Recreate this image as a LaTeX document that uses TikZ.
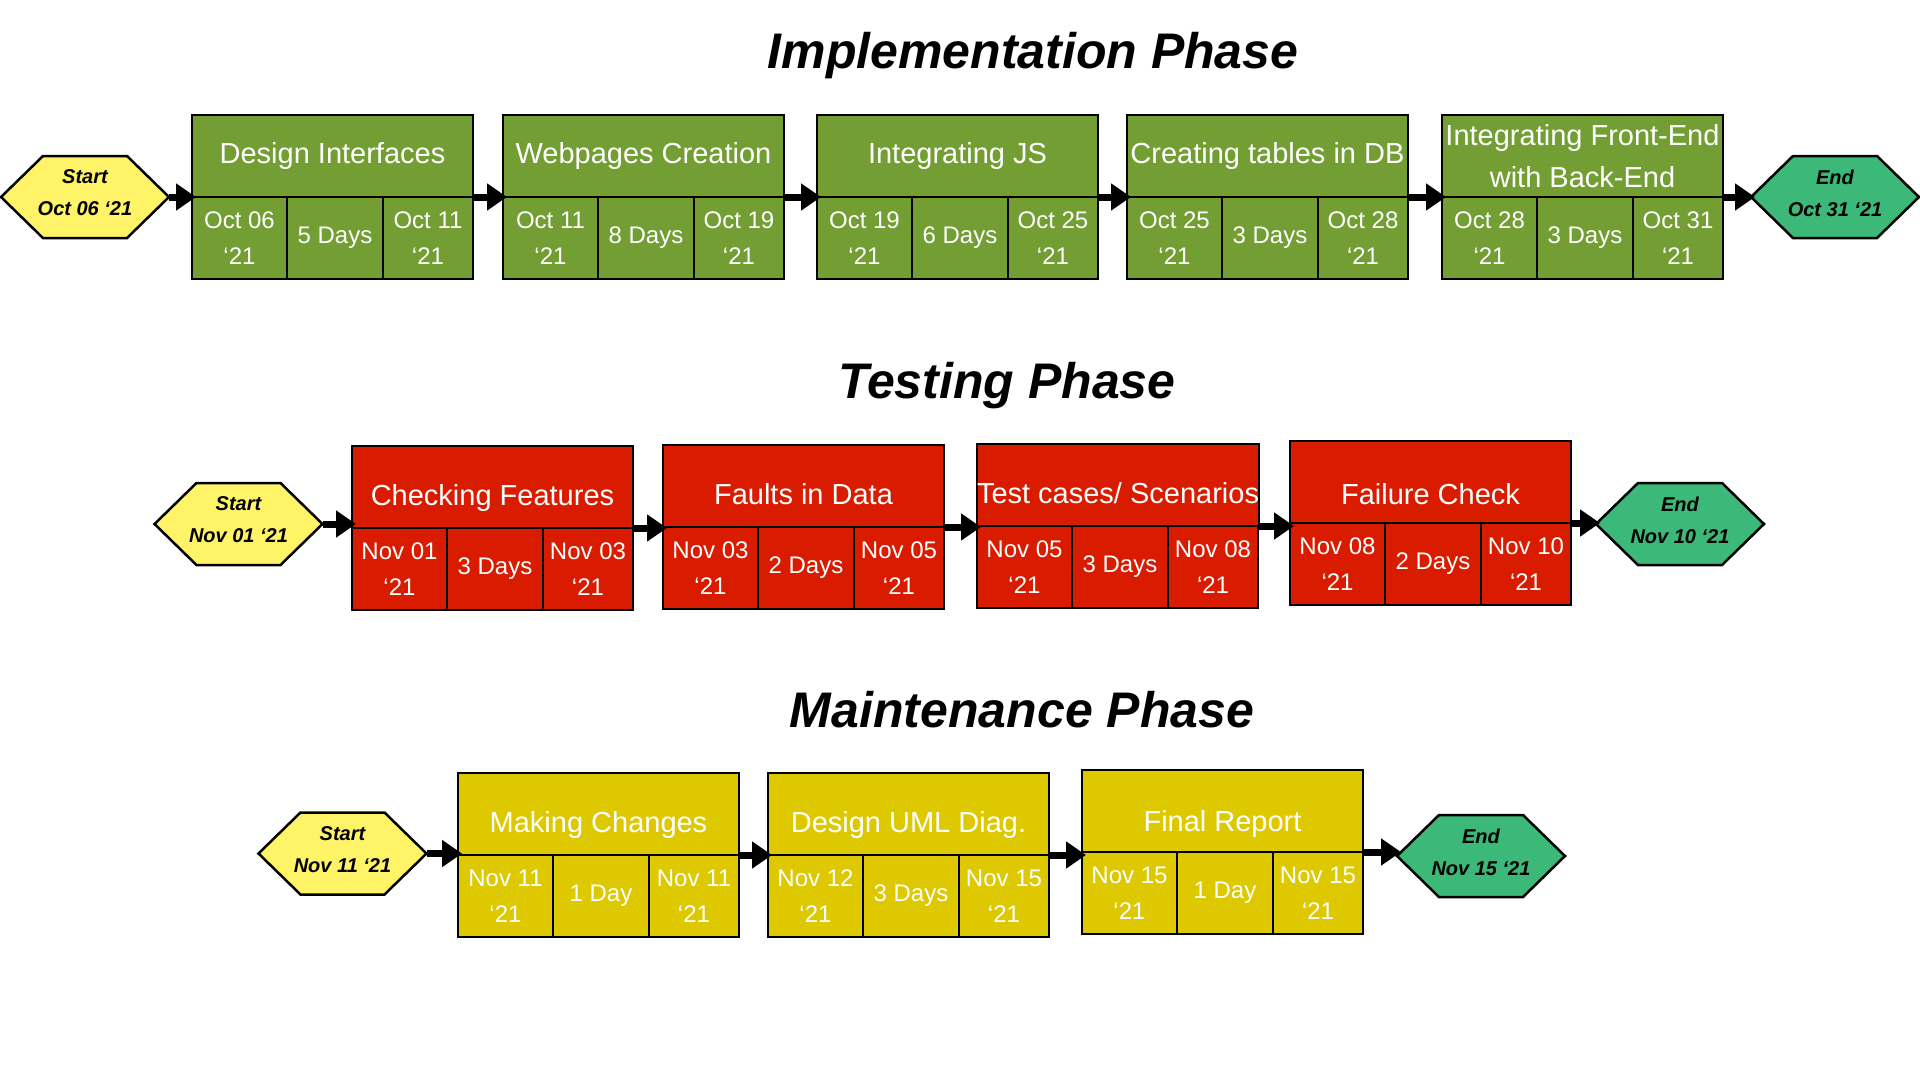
\documentclass[tikz,border=0pt]{standalone}
\usepackage{fontspec}
\setmainfont{Liberation Sans}
\usetikzlibrary{arrows.meta}
\definecolor{grn}{RGB}{115,158,52}
\definecolor{red1}{RGB}{217,27,0}
\definecolor{yel}{RGB}{222,200,0}
\definecolor{hexy}{RGB}{255,244,104}
\definecolor{hexg}{RGB}{60,184,120}
\tikzset{
 phase/.style={font=\fontsize{50}{60}\selectfont\bfseries\itshape, anchor=base, inner sep=0},
 taskbox/.style={draw, line width=2pt, outer sep=0, minimum width=281, minimum height=164, inner sep=0},
 topcell/.style={draw, line width=2pt, outer sep=0, minimum width=281, minimum height=82, inner sep=0, text=white, font=\fontsize{29}{42}\selectfont, align=center, anchor=south west},
 subcell/.style={draw, line width=2pt, outer sep=0, minimum height=82, inner sep=0, text=white, font=\fontsize{24}{36}\selectfont, align=center, anchor=north west},
 hexbox/.style={minimum width=168, minimum height=82, inner sep=0, outer sep=0},
 hexline/.style={draw, line width=2.5pt, line join=miter},
 hextxt/.style={inner sep=0, font=\fontsize{20}{32}\selectfont\bfseries\itshape, align=center},
 arr/.style={line width=7pt, -{Triangle[length=20pt,width=26pt]}, shorten >=-4pt},
 hiA/.style={text height=21pt, text depth=6pt},
 hiB/.style={text height=38pt, text depth=2pt},
 hiC/.style={text height=46pt, text depth=2pt},
 hiD/.style={text height=43pt, text depth=2pt},
}
\newcommand{\mytask}[9]{%
 \node[taskbox, fill=#4] (#1) at (#2,#3) {};
 \node[topcell, fill=#4, #9] (#1-t) at (#1.west) {#5};
 \node[subcell, fill=#4, minimum width=95] (#1-a) at (#1.west) {#6};
 \node[subcell, fill=#4, minimum width=96] (#1-b) at (#1-a.north east) {#7};
 \node[subcell, fill=#4, minimum width=90] (#1-c) at (#1-b.north east) {#8};
}
\newcommand{\myhex}[5]{%
 \node[hexbox] (#1) at (#2,#3) {};
 \filldraw[hexline, fill=#4] (#1.west) -- ([xshift=42pt]#1.north west) -- ([xshift=-42pt]#1.north east) -- (#1.east) -- ([xshift=-42pt]#1.south east) -- ([xshift=42pt]#1.south west) -- cycle;
 \node[hextxt] (#1-txt) at ([yshift=4pt]#1.center) {#5};
}
\begin{document}
\begin{tikzpicture}[x=1pt,y=-1pt]
\useasboundingbox (0,0) rectangle (1920,1080);
\fill[white] (0,0) rectangle (1920,1080);

% Titles
\node[phase] (p1) at (1033,68) {Implementation Phase};
\node[phase] (p2) at (1007,398) {Testing Phase};
\node[phase] (p3) at (1022,727) {Maintenance Phase};

% Row 1
\myhex{s1}{85}{197}{hexy}{Start\\Oct 06 ‘21}
\mytask{a1}{332.5}{197}{grn}{Design Interfaces}{Oct 06\\‘21}{5 Days}{Oct 11\\‘21}{hiA}
\mytask{a2}{643.5}{197}{grn}{Webpages Creation}{Oct 11\\‘21}{8 Days}{Oct 19\\‘21}{hiA}
\mytask{a3}{957.5}{197}{grn}{Integrating JS}{Oct 19\\‘21}{6 Days}{Oct 25\\‘21}{hiA}
\mytask{a4}{1267.5}{197}{grn}{Creating tables in DB}{Oct 25\\‘21}{3 Days}{Oct 28\\‘21}{hiA}
\mytask{a5}{1582.5}{197}{grn}{Integrating Front-End\\with Back-End}{Oct 28\\‘21}{3 Days}{Oct 31\\‘21}{}
\myhex{e1}{1835}{197}{hexg}{End\\Oct 31 ‘21}

% Row 2
\myhex{s2}{238.5}{524}{hexy}{Start\\Nov 01 ‘21}
\mytask{b1}{492.5}{528}{red1}{Checking Features}{Nov 01\\‘21}{3 Days}{Nov 03\\‘21}{hiB}
\mytask{b2}{803.5}{527}{red1}{Faults in Data}{Nov 03\\‘21}{2 Days}{Nov 05\\‘21}{hiB}
\mytask{b3}{1117.5}{526}{red1}{Test cases/ Scenarios}{Nov 05\\‘21}{3 Days}{Nov 08\\‘21}{hiB}
\mytask{b4}{1430.5}{523}{red1}{Failure Check}{Nov 08\\‘21}{2 Days}{Nov 10\\‘21}{hiC}
\myhex{e2}{1680}{524}{hexg}{End\\Nov 10 ‘21}

% Row 3
\myhex{s3}{342.5}{853.5}{hexy}{Start\\Nov 11 ‘21}
\mytask{c1}{598.5}{855}{yel}{Making Changes}{Nov 11\\‘21}{1 Day}{Nov 11\\‘21}{hiB}
\mytask{c2}{908.5}{855}{yel}{Design UML Diag.}{Nov 12\\‘21}{3 Days}{Nov 15\\‘21}{hiB}
\mytask{c3}{1222.5}{852}{yel}{Final Report}{Nov 15\\‘21}{1 Day}{Nov 15\\‘21}{hiD}
\myhex{e3}{1481}{856}{hexg}{End\\Nov 15 ‘21}

% Connectors
\draw[arr] (s1.east) -- (s1.east -| a1.west);
\draw[arr] (a1.east) -- (a1.east -| a2.west);
\draw[arr] (a2.east) -- (a2.east -| a3.west);
\draw[arr] (a3.east) -- (a3.east -| a4.west);
\draw[arr] (a4.east) -- (a4.east -| a5.west);
\draw[arr] (a5.east) -- (a5.east -| e1.west);

\draw[arr] (s2.east) -- (s2.east -| b1.west);
\draw[arr] (b1.east) -- (b1.east -| b2.west);
\draw[arr] (b2.east) -- (b2.east -| b3.west);
\draw[arr] (b3.east) -- (b3.east -| b4.west);
\draw[arr] (b4.east) -- (b4.east -| e2.west);

\draw[arr] (s3.east) -- (s3.east -| c1.west);
\draw[arr] (c1.east) -- (c1.east -| c2.west);
\draw[arr] (c2.east) -- (c2.east -| c3.west);
\draw[arr] (c3.east) -- (c3.east -| e3.west);
\end{tikzpicture}
\end{document}
